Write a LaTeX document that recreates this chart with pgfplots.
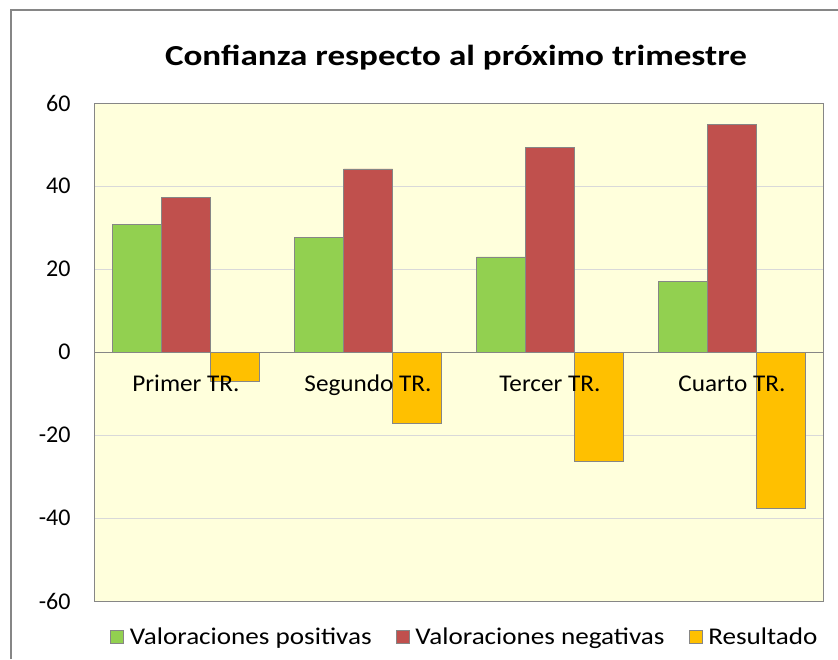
\documentclass[border=0pt]{standalone}
\usepackage{fontspec}
\setmainfont{Carlito}
\newfontfamily\titlefont[FakeStretch=1.21]{Carlito}
\newfontfamily\legfont[FakeStretch=1.13]{Carlito}
\newfontfamily\catfont[FakeStretch=1.05]{Carlito}
\usepackage{pgfplots}
\pgfplotsset{compat=1.18}
\definecolor{cgreen}{HTML}{92D050}
\definecolor{cred}{HTML}{C0504D}
\definecolor{cyellow}{HTML}{FFC000}
\definecolor{bgc}{HTML}{FFFFDC}
\definecolor{framec}{HTML}{868686}
\definecolor{gridc}{HTML}{D9D9D9}
\begin{document}
\begin{tikzpicture}[x=1pt,y=1pt]
\useasboundingbox (0,0) rectangle (838,-659);
\draw[framec, line width=1.5pt] (11,-659) -- (11,-10) -- (838,-10);
\node[font=\titlefont\fontsize{29}{32}\selectfont\bfseries] at (456,-58) {Confianza respecto al próximo trimestre};
\begin{axis}[
 at={(95pt,-601pt)}, anchor=south west,
 width=728pt, height=498pt, scale only axis,
 xmin=-0.5, xmax=3.5, ymin=-60, ymax=60,
 ytick={-60,-40,-20,0,20,40,60},
 yticklabels={-60,-40,-20,0,20,40,60},
 xtick=\empty,
 tick style={draw=none},
 axis background/.style={fill=bgc},
 axis line style={framec, line width=1pt},
 ymajorgrids, grid style={gridc, line width=0.8pt},
 ybar, bar width=49pt,
 yticklabel style={font=\fontsize{24}{26}\selectfont, xshift=-21pt},
 extra y ticks={0}, extra y tick labels={},
 extra y tick style={grid style={framec, line width=1pt}},
 legend columns=-1,
 legend style={at={(0.508,-0.0723)}, anchor=center, draw=none, fill=none,
   font=\legfont\fontsize{24}{26}\selectfont,
   /tikz/every even column/.append style={column sep=22pt},
   /tikz/every odd column/.append style={column sep=4pt}},
 legend image code/.code={\draw[#1] (0pt,-6.5pt) rectangle (13pt,6.5pt);},
]
\addplot[fill=cgreen, draw=framec, line width=0.8pt, bar shift=-49pt] coordinates {(0,30.8) (1,27.5) (2,22.9) (3,17.1)};
\addplot[fill=cred, draw=framec, line width=0.8pt, bar shift=0pt] coordinates {(0,37.3) (1,44.1) (2,49.2) (3,54.8)};
\addplot[fill=cyellow, draw=framec, line width=0.8pt, bar shift=49pt] coordinates {(0,-7.0) (1,-17.1) (2,-26.3) (3,-37.8)};
\legend{Valoraciones positivas, Valoraciones negativas, Resultado}
\node[font=\catfont\fontsize{24}{26}\selectfont, anchor=base] at (axis cs:0,-9.6) {Primer TR.};
\node[font=\catfont\fontsize{24}{26}\selectfont, anchor=base] at (axis cs:1,-9.6) {Segundo TR.};
\node[font=\catfont\fontsize{24}{26}\selectfont, anchor=base] at (axis cs:2,-9.6) {Tercer TR.};
\node[font=\catfont\fontsize{24}{26}\selectfont, anchor=base] at (axis cs:3,-9.6) {Cuarto TR.};
\end{axis}
\end{tikzpicture}
\end{document}
